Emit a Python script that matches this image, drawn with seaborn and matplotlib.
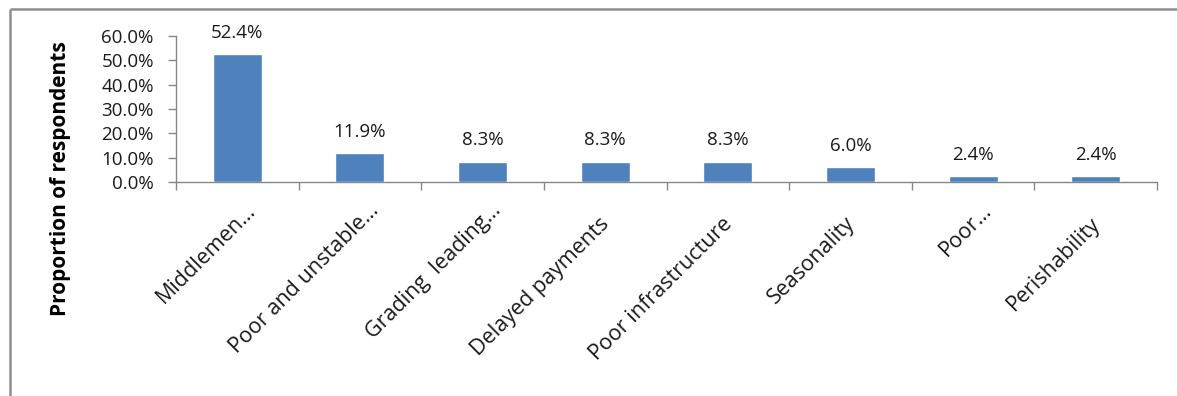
import matplotlib
matplotlib.use("Agg")
import matplotlib.pyplot as plt
from matplotlib.lines import Line2D
from matplotlib.ticker import FuncFormatter, MultipleLocator
from matplotlib.transforms import ScaledTranslation
import seaborn as sns
import pandas as pd

categories = [
    "Middlemen\u2026",
    "Poor and unstable\u2026",
    "Grading  leading\u2026",
    "Delayed payments",
    "Poor infrastructure",
    "Seasonality",
    "Poor\u2026",
    "Perishability",
]
values = [52.4, 11.9, 8.3, 8.3, 8.3, 6.0, 2.4, 2.4]
y_label = "Proportion of respondents"

sns.set_theme(style="white")
plt.rcParams["font.family"] = ["Open Sans", "DejaVu Sans"]

df = pd.DataFrame({"cause": categories, "share": values})

fig = plt.figure(figsize=(11.77, 3.96), dpi=100)
ax = fig.add_axes([176 / 1177, 1 - 182 / 396, (1157 - 176) / 1177, (182 - 36) / 396])

sns.barplot(data=df, x="cause", y="share", color="#4F81BD", saturation=1,
            width=0.40, ax=ax, zorder=3)

ax.set_ylim(0, 60)
ax.set_xlim(-0.5, len(categories) - 0.5)
ax.yaxis.set_major_locator(MultipleLocator(10))
ax.yaxis.set_major_formatter(FuncFormatter(lambda v, _: f"{v:.1f}%"))

axis_color = "#868686"
text_color = "#1a1a1a"
for side in ("top", "right"):
    ax.spines[side].set_visible(False)
for side in ("left", "bottom"):
    ax.spines[side].set_color(axis_color)
    ax.spines[side].set_linewidth(1.0)

# category separators as ticks on the x axis
ax.set_xticks([i - 0.5 for i in range(len(categories) + 1)], minor=True)
ax.tick_params(axis="x", which="minor", length=6, width=1, color=axis_color, direction="out", bottom=True)
ax.tick_params(axis="x", which="major", length=0, labelsize=15.5, labelcolor=text_color, pad=8)
ax.tick_params(axis="y", which="major", length=6, width=1, color=axis_color, direction="out",
               left=True, labelsize=13.5, labelcolor=text_color, pad=10)
ax.set_xticks(range(len(categories)))
ax.set_xticklabels(categories, rotation=45, ha="right", va="top", rotation_mode="anchor")

# nudge the slanted category labels; truncated ones sit a little higher up the slant
for lbl in ax.get_xticklabels():
    if lbl.get_text().endswith("\u2026"):
        dx, dy = 0.08, -0.07
    else:
        dx, dy = -0.06, -0.20
    lbl.set_transform(lbl.get_transform() + ScaledTranslation(dx, dy, fig.dpi_scale_trans))

ax.set_xlabel("")
ax.set_ylabel(y_label, fontsize=15, fontweight="bold", color="#000000")
ax.yaxis.set_label_coords(-0.118, 0.02, transform=ax.transAxes)
ax.yaxis.label.set_va("center")

for i, v in enumerate(values):
    ax.annotate(f"{v:.1f}%", xy=(i, v), xytext=(0, 9), textcoords="offset points",
                ha="center", va="bottom", fontsize=13.5, color=text_color)

# frame lines along the left and top of the figure
border = "#8f8f8f"
fig.add_artist(Line2D([9.5 / 1177, 9.5 / 1177], [0, 1 - 8.5 / 396], transform=fig.transFigure,
                      color=border, linewidth=1.8, solid_capstyle="butt"))
fig.add_artist(Line2D([9.5 / 1177, 1], [1 - 8.5 / 396, 1 - 8.5 / 396], transform=fig.transFigure,
                      color=border, linewidth=1.8, solid_capstyle="butt"))

fig.savefig("out.png", dpi=100)
